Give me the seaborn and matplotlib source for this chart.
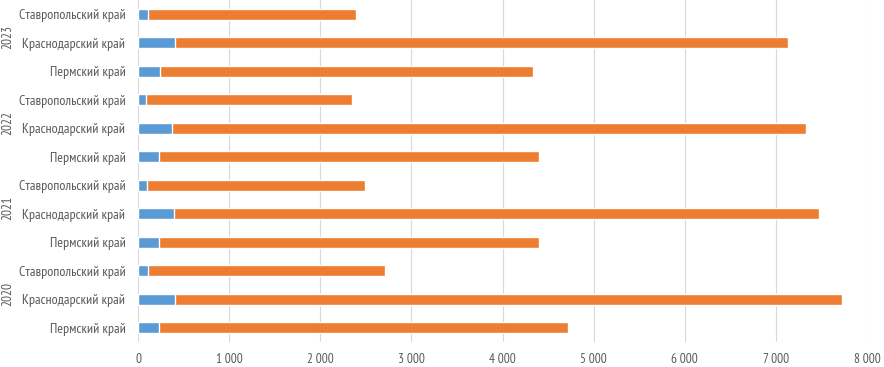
import seaborn as sns
import matplotlib.pyplot as plt
import pandas as pd

sns.set_style('white')
plt.rcParams['font.family'] = ['PT Sans Narrow', 'DejaVu Sans']

# data, rows from top to bottom
years = ['2023', '2023', '2023', '2022', '2022', '2022',
         '2021', '2021', '2021', '2020', '2020', '2020']
regions = ['Ставропольский край', 'Краснодарский край', 'Пермский край'] * 4
blue_vals = [105, 406, 245, 91, 377, 230, 100, 391, 234, 115, 406, 234]
orange_vals = [2285, 6729, 4085, 2254, 6953, 4170, 2390, 7079, 4166, 2595, 7324, 4486]
year_labels = ['2023', '2022', '2021', '2020']

df = pd.DataFrame({'year': years, 'region': regions,
                   'blue': blue_vals, 'orange': orange_vals})
df['row'] = df['year'] + ' ' + df['region']
df['total'] = df['blue'] + df['orange']

fig = plt.figure(figsize=(8.84, 3.67), dpi=100)
ax = fig.add_axes([138 / 884, 25 / 367, 729 / 884, 342 / 367])

# stacked bars: full length in orange, blue part drawn over it
sns.barplot(data=df, y='row', x='total', color='#ED7D31', width=0.4,
            saturation=1, ax=ax, order=df['row'])
sns.barplot(data=df, y='row', x='blue', color='#5B9BD5', width=0.4,
            saturation=1, ax=ax, order=df['row'])

ax.set_xlim(0, 8000)
ax.set_ylim(11.5, -0.5)
ax.set_xticks(range(0, 8001, 1000))
ax.set_xticklabels([f'{v:,}'.replace(',', ' ') for v in range(0, 8001, 1000)])
ax.set_yticks(range(len(df)))
ax.set_yticklabels(df['region'])
ax.set_xlabel('')
ax.set_ylabel('')
ax.grid(axis='x', color='#D9D9D9', linewidth=0.8)
ax.set_axisbelow(True)
sns.despine(ax=ax, left=True, bottom=True)
ax.tick_params(axis='both', length=0, labelcolor='#595959')
ax.tick_params(axis='y', pad=9, labelsize=10)
ax.tick_params(axis='x', pad=8, labelsize=9.5)

# year labels, one per group of three rows
for i, yr in enumerate(year_labels):
    ax.text(-0.178, i * 3 + 0.8, yr, transform=ax.get_yaxis_transform(),
            rotation=90, ha='center', va='center', fontsize=9.5, color='#595959')

fig.savefig('out.png', dpi=100)
